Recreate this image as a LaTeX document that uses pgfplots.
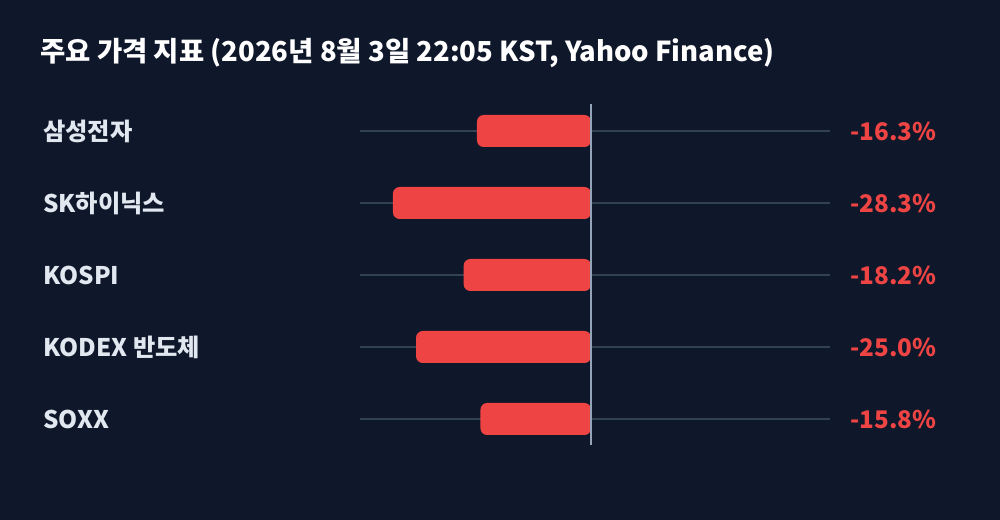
\documentclass[border=0pt]{standalone}
\usepackage{pgfplots}
\pgfplotsset{compat=1.18}
\usepackage{pgfplotstable}
\usepackage{fontspec}
\setmainfont{Noto Sans CJK KR}

\definecolor{bg}{HTML}{0F172A}
\definecolor{track}{HTML}{334155}
\definecolor{zeroline}{HTML}{94A3B8}
\definecolor{barred}{HTML}{EF4444}
\definecolor{lbl}{HTML}{E2E8F0}

% 1px of the reference = 0.75pt
\pgfplotstableread{
idx name value
1 삼성전자 -16.3
2 SK하이닉스 -28.3
3 KOSPI -18.2
4 {KODEX 반도체} -25.0
5 SOXX -15.8
}\data

\pgfplotsset{
  rowaxis/.style={
    at={(270pt,48.75pt)}, anchor=south west,
    scale only axis, width=352.5pt, height=270pt,
    xmin=-33, xmax=34.1,
    ymin=0.5, ymax=5.5, y dir=reverse,
    axis line style={draw=none},
    xtick=\empty, ytick={1,2,3,4,5},
    major tick length=0pt,
    clip=false,
  },
}

\begin{document}
\begin{tikzpicture}
\fill[bg] (0,0) rectangle (750pt,390pt);
\node[anchor=west, text=white, inner sep=0pt,
      font=\bfseries\fontsize{20.6}{24}\selectfont]
  at (30pt,350.25pt) {주요 가격 지표 (2026년 8월 3일 22:05 KST, Yahoo Finance)};

\begin{axis}[rowaxis,
    ymajorgrids, grid style={track, line width=1.2pt},
    yticklabels from table={\data}{name},
    yticklabel style={anchor=west, inner sep=0pt, xshift=-237.75pt,
      text=lbl, font=\bfseries\fontsize{18.2}{22}\selectfont},
]
\addplot[xbar, fill=barred, draw=none, bar width=24pt, rounded corners=5pt]
  table[x=value, y=idx] {\data};
\draw[zeroline, line width=1pt] (axis cs:0,0.625) -- (axis cs:0,5.36);
\end{axis}

\begin{axis}[rowaxis,
    yticklabel pos=right,
    yticklabels={-16.3\%, -28.3\%, -18.2\%, -25.0\%, -15.8\%},
    yticklabel style={anchor=west, inner sep=0pt, xshift=15pt,
      text=barred, font=\bfseries\fontsize{18.2}{22}\selectfont},
]
\end{axis}
\end{tikzpicture}
\end{document}
